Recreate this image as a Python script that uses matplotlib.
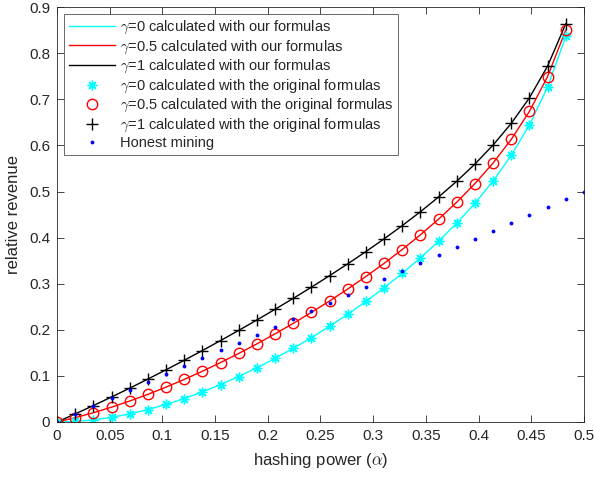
import matplotlib
matplotlib.use("Agg")
import matplotlib.pyplot as plt

plt.rcParams['font.family'] = ['Liberation Sans', 'DejaVu Sans']
plt.rcParams['mathtext.fontset'] = 'cm'

alpha = [0.0, 0.017241, 0.034483, 0.051724, 0.068966, 0.086207, 0.103448, 0.12069,
         0.137931, 0.155172, 0.172414, 0.189655, 0.206897, 0.224138, 0.241379,
         0.258621, 0.275862, 0.293103, 0.310345, 0.327586, 0.344828, 0.362069,
         0.37931, 0.396552, 0.413793, 0.431034, 0.448276, 0.465517, 0.482759]

rev_g0 = [0.0, 0.00116, 0.00456, 0.01006, 0.01753, 0.02688, 0.03801, 0.05082,
          0.06524, 0.08122, 0.09869, 0.11762, 0.13799, 0.15977, 0.18298,
          0.20764, 0.23380, 0.26155, 0.29102, 0.32240, 0.35596, 0.39208,
          0.43133, 0.47450, 0.52289, 0.57843, 0.64442, 0.72664, 0.83658]

rev_g05 = [0.0, 0.00935, 0.02010, 0.03217, 0.04549, 0.05999, 0.07564, 0.09236,
           0.11014, 0.12893, 0.14872, 0.16949, 0.19124, 0.21398, 0.23773,
           0.26254, 0.28848, 0.31564, 0.34415, 0.37421, 0.40607, 0.44011,
           0.47683, 0.51703, 0.56185, 0.61312, 0.67384, 0.74935, 0.85018]

rev_g1 = [0.0, 0.01753, 0.03563, 0.05428, 0.07344, 0.09311, 0.11327, 0.13391,
          0.15503, 0.17664, 0.19874, 0.22135, 0.24449, 0.26818, 0.29248,
          0.31745, 0.34317, 0.36973, 0.39728, 0.42602, 0.45618, 0.48813,
          0.52234, 0.55956, 0.60082, 0.64780, 0.70326, 0.77205, 0.86378]

honest_x = [0.0, 0.017241, 0.034483, 0.051724, 0.068966, 0.086207, 0.103448, 0.12069,
            0.137931, 0.155172, 0.172414, 0.189655, 0.206897, 0.224138, 0.241379,
            0.258621, 0.275862, 0.293103, 0.310345, 0.327586, 0.344828, 0.362069,
            0.37931, 0.396552, 0.413793, 0.431034, 0.448276, 0.465517, 0.482759, 0.5]
honest_y = [0.0, 0.017241, 0.034483, 0.051724, 0.068966, 0.086207, 0.103448, 0.12069,
            0.137931, 0.155172, 0.172414, 0.189655, 0.206897, 0.224138, 0.241379,
            0.258621, 0.275862, 0.293103, 0.310345, 0.327586, 0.344828, 0.362069,
            0.37931, 0.396552, 0.413793, 0.431034, 0.448276, 0.465517, 0.482759, 0.5]

xticks = [0, 0.05, 0.1, 0.15, 0.2, 0.25, 0.3, 0.35, 0.4, 0.45, 0.5]
xticklabels = ['0', '0.05', '0.1', '0.15', '0.2', '0.25', '0.3', '0.35', '0.4', '0.45', '0.5']
yticks = [0, 0.1, 0.2, 0.3, 0.4, 0.5, 0.6, 0.7, 0.8, 0.9]
yticklabels = ['0', '0.1', '0.2', '0.3', '0.4', '0.5', '0.6', '0.7', '0.8', '0.9']

fig = plt.figure(figsize=(5.94, 4.79), dpi=100)
ax = fig.add_axes([0.096, 0.119, 0.887, 0.866])

ax.plot(alpha, rev_g0, color='cyan', lw=1.0, label=r'$\gamma$=0 calculated with our formulas')
ax.plot(alpha, rev_g05, color='red', lw=1.0, label=r'$\gamma$=0.5 calculated with our formulas')
ax.plot(alpha, rev_g1, color='black', lw=1.0, label=r'$\gamma$=1 calculated with our formulas')
ax.plot(alpha, rev_g0, ls='none', marker=(8, 2, 0), color='cyan', mec='cyan', ms=7, mew=1.0,
        label=r'$\gamma$=0 calculated with the original formulas')
ax.plot(alpha, rev_g05, ls='none', marker='o', mfc='none', mec='red', ms=7.5, mew=1.0,
        label=r'$\gamma$=0.5 calculated with the original formulas')
ax.plot(alpha, rev_g1, ls='none', marker='+', color='black', ms=8, mew=1.0,
        label=r'$\gamma$=1 calculated with the original formulas')
ax.plot(honest_x, honest_y, ls='none', marker='.', color='blue', ms=3.5,
        label='Honest mining')

ax.set_xlim(0, 0.5)
ax.set_ylim(0, 0.9)
ax.set_xticks(xticks)
ax.set_xticklabels(xticklabels)
ax.set_yticks(yticks)
ax.set_yticklabels(yticklabels)
ax.tick_params(direction='in', top=True, right=True, length=5, width=0.6,
               labelsize=11, colors='#262626', pad=5)
for s in ax.spines.values():
    s.set_linewidth(0.6)
    s.set_color('#262626')

ax.set_xlabel(r'hashing power ($\alpha$)', fontsize=12, color='#262626', labelpad=6)
ax.set_ylabel('relative revenue', fontsize=12, color='#262626', labelpad=6)

leg = ax.legend(loc='upper left', fontsize=10.5, frameon=True, fancybox=False,
                edgecolor='#262626', handlelength=3.2, handletextpad=0.3,
                borderpad=0.3, labelspacing=0.15, borderaxespad=0.5)
leg.get_frame().set_linewidth(0.6)
for t in leg.get_texts():
    t.set_color('#262626')

fig.savefig('out.png', dpi=100)
